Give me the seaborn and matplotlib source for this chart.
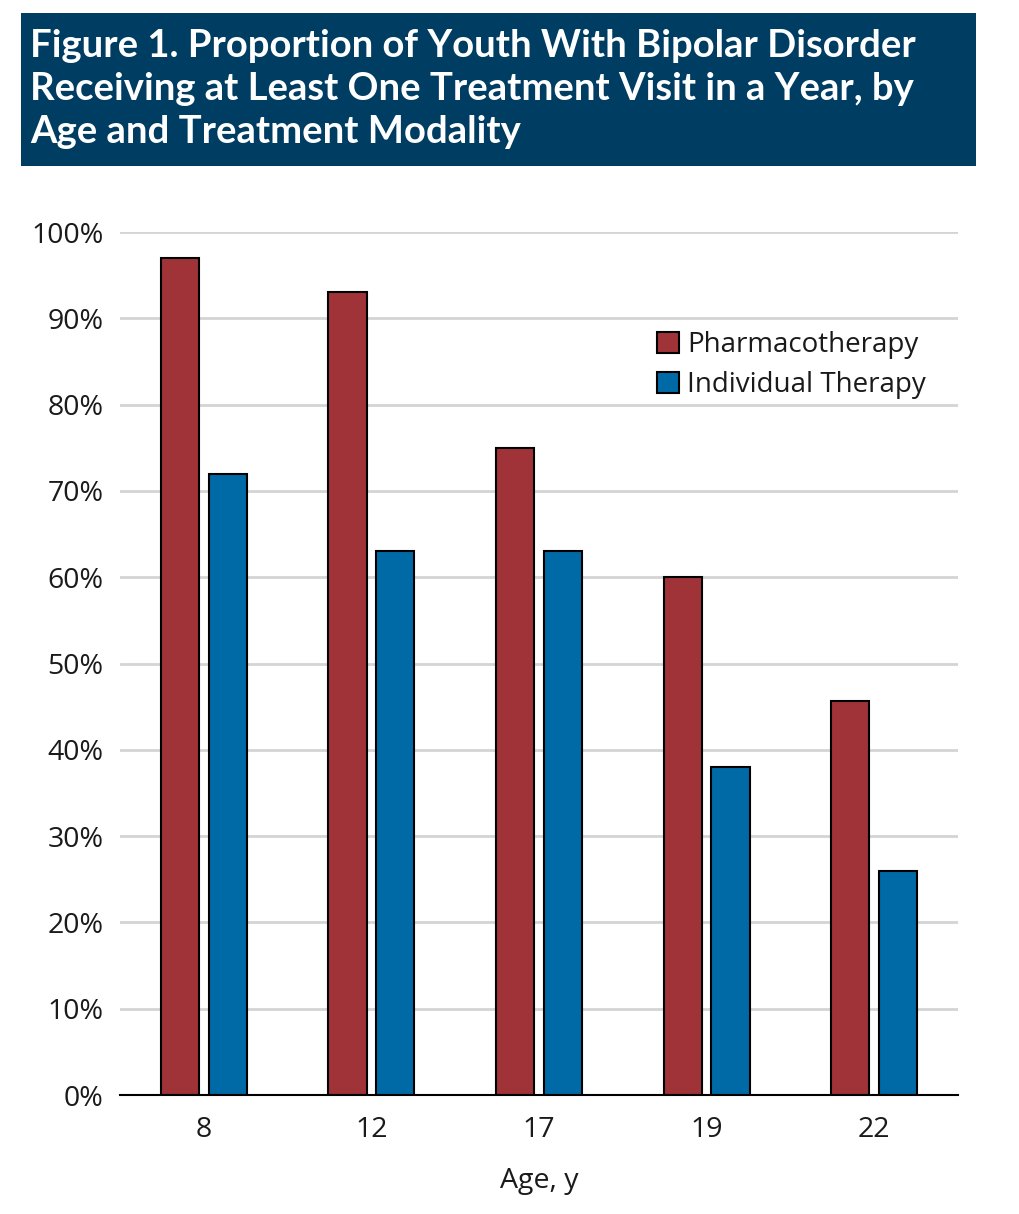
import matplotlib
matplotlib.use("Agg")
import matplotlib.pyplot as plt
from matplotlib.patches import Rectangle
from matplotlib.ticker import FuncFormatter
import seaborn as sns
import pandas as pd

# data
ages = ["8", "12", "17", "19", "22"]
pharmacotherapy = [97, 93, 75, 60, 45.7]
individual_therapy = [72, 63, 63, 38, 26]
modalities = ["Pharmacotherapy", "Individual Therapy"]

title = ("Figure 1. Proportion of Youth With Bipolar Disorder\n"
         "Receiving at Least One Treatment Visit in a Year, by\n"
         "Age and Treatment Modality")

df = pd.DataFrame({
    "age": ages * 2,
    "pct": pharmacotherapy + individual_therapy,
    "modality": [modalities[0]] * len(ages) + [modalities[1]] * len(ages),
})

sns.set_theme(style="white")
plt.rcParams["font.family"] = ["Open Sans", "DejaVu Sans"]

fig = plt.figure(figsize=(10.2, 12.14), dpi=100)
ax = fig.add_axes([120 / 1020, 1 - 1095 / 1214, 838 / 1020, (1095 - 232) / 1214])

palette = {"Pharmacotherapy": "#a03338", "Individual Therapy": "#006aa7"}
sns.barplot(data=df, x="age", y="pct", hue="modality", order=ages,
            hue_order=modalities, palette=palette, width=0.57, gap=0.2,
            edgecolor="black", linewidth=1.5, saturation=1, ax=ax,
            legend=False, zorder=3)

ax.set_xlim(-0.5, len(ages) - 0.5)
ax.set_ylim(0, 100)
ax.set_yticks(range(0, 101, 10))
ax.yaxis.set_major_formatter(FuncFormatter(lambda v, p: "%d%%" % v))
ax.grid(axis="y", color="#d4d4d4", linewidth=2, zorder=0)
ax.grid(axis="x", visible=False)
for s in ["left", "right", "top"]:
    ax.spines[s].set_visible(False)
ax.spines["bottom"].set_color("black")
ax.spines["bottom"].set_linewidth(1.5)
ax.spines["bottom"].set_zorder(4)
ax.tick_params(axis="both", length=0, labelsize=20.5, colors="#1a1a1a")
ax.tick_params(axis="x", pad=15)
ax.tick_params(axis="y", pad=12)
ax.set_ylabel("")
ax.set_xlabel("Age, y", fontsize=20.5, color="#1a1a1a", labelpad=17)

# legend
handles = [Rectangle((0, 0), 1, 1, facecolor=palette[m], edgecolor="black",
                     linewidth=1.5) for m in modalities]
leg = ax.legend(handles, modalities, loc="upper right",
                bbox_to_anchor=(0.975, 0.898), frameon=False, fontsize=20,
                handlelength=0.8, handleheight=0.8, handletextpad=0.3,
                labelspacing=0.42, borderaxespad=0)
for t in leg.get_texts():
    t.set_color("#1a1a1a")

# title banner
fig.patches.append(Rectangle((21 / 1020, 1 - 166 / 1214), 955 / 1020,
                             153 / 1214, transform=fig.transFigure,
                             facecolor="#003d63", edgecolor="none"))
fig.text(30 / 1020, 1 - 89 / 1214, title, color="white", fontsize=27.5,
         fontweight="bold", va="center", ha="left", linespacing=1.33,
         family=["Lato", "DejaVu Sans"])

fig.savefig("out.png", dpi=100, facecolor="white")
